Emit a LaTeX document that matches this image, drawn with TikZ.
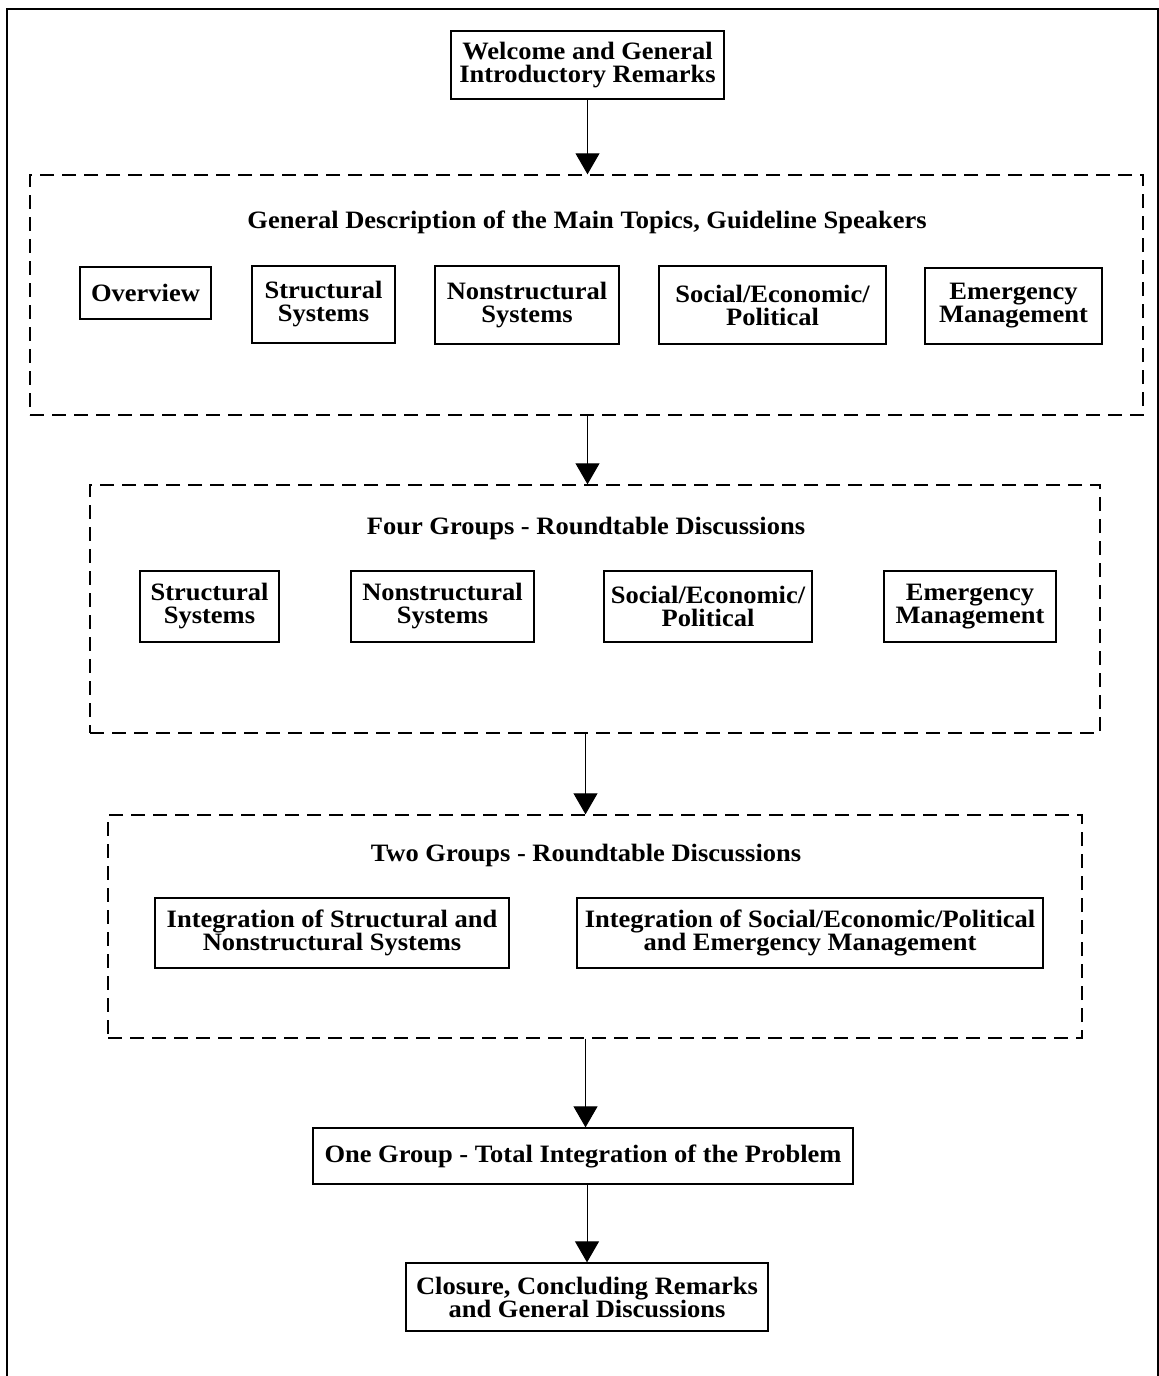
\documentclass[tikz,border=0pt]{standalone}
\usepackage{fontspec}
\setmainfont{Liberation Serif}[FakeStretch=1.06]
\usetikzlibrary{arrows.meta}
\tikzset{
  txt/.style={font=\bfseries\fontsize{25}{23}\selectfont, align=center, inner sep=0pt},
  box/.style={txt, draw, line width=1.3pt, rectangle},
  grp/.style={draw, line width=1.4pt, dash pattern=on 14pt off 8pt, rectangle, inner sep=0pt},
  flow/.style={line width=1pt, -{Triangle[width=24pt,length=21pt]}},
  frame/.style={line width=1.4pt}
}
\begin{document}
\begin{tikzpicture}[x=1pt,y=-1pt]
\useasboundingbox (0,0) rectangle (1159,1376);
\coordinate (fa) at (7,1376);
\coordinate (fb) at (7,9);
\coordinate (fc) at (1158,9);
\coordinate (fd) at (1158,1376);
\draw[frame] (fa) -- (fb) -- (fc) -- (fd);

\node[box, minimum width=273pt, minimum height=68pt] (w) at (587.5,65) {Welcome and General\\Introductory Remarks};

\node[grp, minimum width=1113pt, minimum height=240pt] (g1) at (586.5,295) {};
\node[txt] (t1) at (587,222) {General Description of the Main Topics, Guideline Speakers};
\node[box, minimum width=131pt, minimum height=52pt] (o1) at (145.5,293) {Overview};
\node[box, minimum width=143pt, minimum height=77pt] (s1) at (323.5,304.5) {Structural\\Systems};
\node[box, minimum width=184pt, minimum height=78pt] (n1) at (527,305) {Nonstructural\\Systems};
\node[box, minimum width=227pt, minimum height=78pt] (p1) at (772.5,305) {Social/Economic/\\Political};
\node[box, minimum width=177pt, minimum height=76pt] (e1) at (1013.5,306) {Emergency\\Management};

\node[grp, minimum width=1010pt, minimum height=248pt] (g2) at (595,609) {};
\node[txt] (t2) at (586,528) {Four Groups - Roundtable Discussions};
\node[box, minimum width=139pt, minimum height=71pt] (s2) at (209.5,606.5) {Structural\\Systems};
\node[box, minimum width=183pt, minimum height=71pt] (n2) at (442.5,606.5) {Nonstructural\\Systems};
\node[box, minimum width=208pt, minimum height=71pt] (p2) at (708,606.5) {Social/Economic/\\Political};
\node[box, minimum width=172pt, minimum height=71pt] (e2) at (970,606.5) {Emergency\\Management};

\node[grp, minimum width=974pt, minimum height=223pt] (g3) at (595,926.5) {};
\node[txt] (t3) at (586,855) {Two Groups - Roundtable Discussions};
\node[box, minimum width=354pt, minimum height=70pt] (i1) at (332,933) {Integration of Structural and\\Nonstructural Systems};
\node[box, minimum width=466pt, minimum height=70pt] (i2) at (810,933) {Integration of Social/Economic/Political\\and Emergency Management};

\node[box, minimum width=540pt, minimum height=56pt] (og) at (583,1156) {One Group - Total Integration of the Problem};
\node[box, minimum width=362pt, minimum height=68pt] (cl) at (587,1297) {Closure, Concluding Remarks\\and General Discussions};

\draw[flow] (w.south) -- (w.south |- g1.north);
\draw[flow] (w.south |- g1.south) -- (w.south |- g2.north);
\draw[flow] ([xshift=-2pt]w.south |- g2.south) -- ([xshift=-2pt]w.south |- g3.north);
\draw[flow] ([xshift=-2pt]w.south |- g3.south) -- ([xshift=-2pt]w.south |- og.north);
\draw[flow] (og.south -| cl.north) -- (cl.north);
\end{tikzpicture}
\end{document}
